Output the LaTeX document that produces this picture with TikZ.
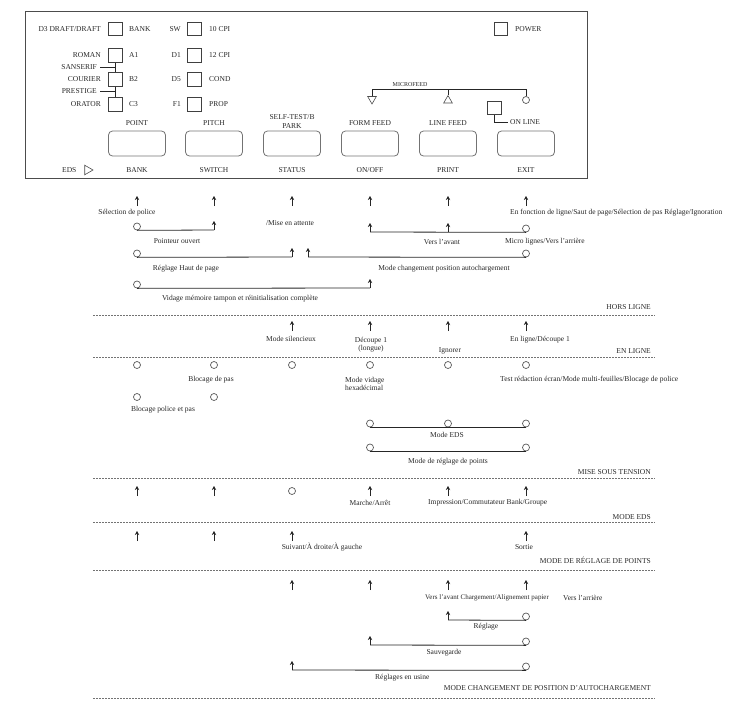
\documentclass[tikz,border=0pt]{standalone}
\usepackage{fontspec}
\setmainfont{Liberation Serif}
\usetikzlibrary{arrows.meta,shapes.geometric}
\tikzset{
  lbl/.style={font=\fontsize{7.5}{8.5}\selectfont, text=black!85, inner sep=0pt},
  small/.style={font=\fontsize{6}{7}\selectfont, text=black!85, inner sep=0pt},
  sq/.style={draw=black!75, line width=0.7pt, minimum size=13.5pt, inner sep=0pt},
  btn/.style={draw=black!55, line width=0.8pt, rounded corners=4pt, minimum width=57pt, minimum height=25pt, inner sep=0pt},
  uparr/.style={-{Stealth[length=4pt,width=4.4pt]}, line width=0.75pt, draw=black!85},
  ring/.style={circle, draw=black!65, line width=0.7pt, minimum size=7pt, inner sep=0pt},
  tri/.style={regular polygon, regular polygon sides=3, draw=black!70, line width=0.6pt, minimum size=10pt, inner sep=0pt},
  wire/.style={line width=0.8pt, draw=black!85},
  sep/.style={draw=black!55, line width=0.8pt, dash pattern=on 2pt off 1pt},
  panel/.style={draw=black!70, line width=0.9pt},
}
\begin{document}
\begin{tikzpicture}[x=1pt,y=-1pt]
\useasboundingbox (0,0) rectangle (745,704);
% ---------------- panel ----------------
\draw[panel] (25,11) rectangle (587,178);
% left group
\node[lbl, anchor=east] (lDraft) at (101,29) {D3 DRAFT/DRAFT};
\node[sq] (sA) at (115.5,29) {};
\node[lbl, anchor=west] (lBank) at (129,29) {BANK};
\node[lbl, anchor=east] (lRoman) at (101,55.5) {ROMAN};
\node[sq] (sB) at (115.5,55.5) {};
\node[lbl, anchor=west] (lA1) at (129,55.5) {A1};
\node[lbl, anchor=east] (lSans) at (97,67) {SANSERIF};
\node[lbl, anchor=east] (lCour) at (101,79.5) {COURIER};
\node[sq] (sC) at (115.5,79.5) {};
\node[lbl, anchor=west] (lB2) at (129,79.5) {B2};
\node[lbl, anchor=east] (lPres) at (97,91.5) {PRESTIGE};
\node[lbl, anchor=east] (lOrat) at (101,104.5) {ORATOR};
\node[sq] (sD) at (115.5,104.5) {};
\node[lbl, anchor=west] (lC3) at (129,104.5) {C3};
\draw[wire] (sB.south) -- (sC.north);
\draw[wire] (sC.south) -- (sD.north);
\draw[wire] ([xshift=3pt]lSans.east) -- (lSans.east -| sB.south);
\draw[wire] ([xshift=3pt]lPres.east) -- (lPres.east -| sB.south);
% middle group
\node[lbl, anchor=east] (lSW) at (181,29) {SW};
\node[sq] (tA) at (194.5,29) {};
\node[lbl, anchor=west] (l10) at (209,29) {10 CPI};
\node[lbl, anchor=east] (lD1) at (181,55.5) {D1};
\node[sq] (tB) at (194.5,55.5) {};
\node[lbl, anchor=west] (l12) at (209,55.5) {12 CPI};
\node[lbl, anchor=east] (lD5) at (181,79.5) {D5};
\node[sq] (tC) at (194.5,79.5) {};
\node[lbl, anchor=west] (lCond) at (209,79.5) {COND};
\node[lbl, anchor=east] (lF1) at (181,104.5) {F1};
\node[sq] (tD) at (194.5,104.5) {};
\node[lbl, anchor=west] (lProp) at (209,104.5) {PROP};
% power
\node[sq] (sPow) at (501,29) {};
\node[lbl, anchor=west] (lPow) at (515,29) {POWER};
% button labels
\node[lbl] (bl1) at (137,123) {POINT};
\node[lbl] (bl2) at (214,123) {PITCH};
\node[lbl, align=center] (bl3) at (292,121.5) {SELF-TEST/B\\PARK};
\node[lbl] (bl4) at (370,123) {FORM FEED};
\node[lbl] (bl5) at (448,123) {LINE FEED};
% buttons
\node[btn] (b1) at (137,143.5) {};
\node[btn] (b2) at (214,143.5) {};
\node[btn] (b3) at (292,143.5) {};
\node[btn] (b4) at (370,143.5) {};
\node[btn] (b5) at (448,143.5) {};
\node[btn] (b6) at (526,143.5) {};
% bottom labels
\node[lbl, anchor=west] (lEds) at (62,170) {EDS};
\node[tri, shape border rotate=-90, minimum size=11pt] (tEds) at (87.5,170) {};
\node[lbl] (bb1) at (137,170) {BANK};
\node[lbl] (bb2) at (214,170) {SWITCH};
\node[lbl] (bb3) at (292,170) {STATUS};
\node[lbl] (bb4) at (370,170) {ON/OFF};
\node[lbl] (bb5) at (448,170) {PRINT};
\node[lbl] (bb6) at (526,170) {EXIT};
% microfeed
\node[small] (lMicro) at (410,84.5) {MICROFEED};
\coordinate (mfL) at (372,89);
\coordinate (mfM) at (448,89);
\coordinate (mfR) at (526,89);
\node[tri, shape border rotate=180] (mfDown) at (372,99) {};
\node[tri] (mfUp) at (448,100.5) {};
\node[ring] (mfRing) at (526,100) {};
\draw[wire] (mfDown.north) -- (mfL) -- (mfR) -- (mfRing.north);
\draw[wire] (mfM) -- (mfUp.north);
% on line
\node[sq] (sOn) at (494.5,108) {};
\node[lbl, anchor=west] (lOn) at (510,122) {ON LINE};
\draw[wire] (sOn.south) |- ([xshift=-2pt]lOn.west);

% ---------------- HORS LIGNE ----------------
\foreach \n/\x in {1/137,2/214,3/292,4/370,5/448,6/526}{
  \coordinate (hA\n) at (\x,206);
  \draw[uparr] (hA\n) -- ++(0,-10);
}
\node[lbl] (tSel) at (127,213) {Sélection de police};
\node[lbl] (tMise) at (290,223) {/Mise en attente};
\node[lbl, anchor=west] (tFonc) at (510,213) {En fonction de ligne/Saut de page/Sélection de pas Réglage/Ignoration};
% row B
\node[ring] (hB1) at (137,226.5) {};
\coordinate (hB2) at (214,230);
\draw[wire] (hB1.south) -- (hB2);
\draw[uparr] (hB2) -- ++(0,-9);
\coordinate (hB4) at (370,232);
\coordinate (hB5) at (448,232);
\node[ring] (hB6) at (526,228.5) {};
\draw[wire] (hB4) -- (hB6.south);
\draw[uparr] (hB4) -- ++(0,-9);
\draw[uparr] (hB5) -- ++(0,-9);
\node[lbl] (tPoint) at (177,241) {Pointeur ouvert};
\node[lbl] (tAvant) at (442,242) {Vers l'avant};
\node[lbl, anchor=west] (tMicro) at (505,242) {Micro lignes/Vers l'arrière};
% row C
\node[ring] (hC1) at (137,253.5) {};
\coordinate (hC3) at (292,257);
\draw[wire] (hC1.south) -- (hC3);
\draw[uparr] (hC3) -- ++(0,-9);
\coordinate (hC3b) at (308,257);
\node[ring] (hC6) at (526,253.5) {};
\draw[wire] (hC3b) -- (hC6.south);
\draw[uparr] (hC3b) -- ++(0,-9);
\node[lbl] (tHaut) at (186,269) {Réglage Haut de page};
\node[lbl] (tChg) at (444,269) {Mode changement position autochargement};
% row D
\node[ring] (hD1) at (137,284.5) {};
\coordinate (hD4) at (370,288);
\draw[wire] (hD1.south) -- (hD4);
\draw[uparr] (hD4) -- ++(0,-9);
\node[lbl] (tVid) at (240,299) {Vidage mémoire tampon et réinitialisation complète};
\node[lbl, anchor=east] (secHors) at (651,307) {HORS LIGNE};
\draw[sep] (93,315) -- (655,315);

% ---------------- EN LIGNE ----------------
\foreach \n/\x in {3/292,4/370,5/448,6/526}{
  \coordinate (eA\n) at (\x,331);
  \draw[uparr] (eA\n) -- ++(0,-10);
}
\node[lbl] (tSil) at (291,339) {Mode silencieux};
\node[lbl, align=center] (tDec) at (371,344.5) {Découpe 1\\(longue)};
\node[lbl] (tIgn) at (450,351) {Ignorer};
\node[lbl, anchor=west] (tEnl) at (510,340) {En ligne/Découpe 1};
\node[lbl, anchor=east] (secEn) at (651,351) {EN LIGNE};
\draw[sep] (93,357) -- (655,357);

% ---------------- MISE SOUS TENSION ----------------
\foreach \n/\x in {1/137,2/214,3/292,4/370,5/448,6/526}{
  \node[ring] (mA\n) at (\x,365) {};
}
\node[ring] (mB1) at (137,397) {};
\node[ring] (mB2) at (214,397) {};
\node[lbl] (tBlp) at (211,380) {Blocage de pas};
\node[lbl, align=left, anchor=north west] (tHex) at (345,377) {Mode vidage\\hexadécimal};
\node[lbl, anchor=west] (tTest) at (500,380) {Test rédaction écran/Mode multi-feuilles/Blocage de police};
\node[lbl] (tBlpp) at (163,410) {Blocage police et pas};
\node[ring] (mC4) at (370,423.5) {};
\node[ring] (mC5) at (448,423.5) {};
\node[ring] (mC6) at (526,423.5) {};
\draw[wire] (mC4.south) -- (mC5.south) -- (mC6.south);
\node[lbl] (tEds) at (447,435) {Mode EDS};
\node[ring] (mD4) at (370,447.5) {};
\node[ring] (mD6) at (526,447.5) {};
\draw[wire] (mD4.south) -- (mD6.south);
\node[lbl] (tRegp) at (448,462) {Mode de réglage de points};
\node[lbl, anchor=east] (secMise) at (651,472) {MISE SOUS TENSION};
\draw[sep] (93,478) -- (655,478);

% ---------------- MODE EDS ----------------
\foreach \n/\x in {1/137,2/214,4/370,5/448,6/526}{
  \coordinate (dA\n) at (\x,496);
  \draw[uparr] (dA\n) -- ++(0,-10);
}
\node[ring] (dA3) at (292,491) {};
\node[lbl] (tMarche) at (370,503) {Marche/Arrêt};
\node[lbl, anchor=west] (tImp) at (428,503) {Impression/Commutateur Bank/Groupe};
\node[lbl, anchor=east] (secEds) at (651,517) {MODE EDS};
\draw[sep] (93,522) -- (655,522);

% ---------------- MODE DE REGLAGE DE POINTS ----------------
\foreach \n/\x in {1/137,2/214,3/292,6/526}{
  \coordinate (pA\n) at (\x,541);
  \draw[uparr] (pA\n) -- ++(0,-10);
}
\node[lbl] (tSuiv) at (322,547) {Suivant/À droite/À gauche};
\node[lbl] (tSort) at (524,547) {Sortie};
\node[lbl, anchor=east] (secPts) at (651,560) {MODE DE RÉGLAGE DE POINTS};
\draw[sep] (93,570) -- (655,570);

% ---------------- MODE CHANGEMENT ----------------
\foreach \n/\x in {3/292,4/370,5/448,6/526}{
  \coordinate (cA\n) at (\x,590);
  \draw[uparr] (cA\n) -- ++(0,-10);
}
\node[lbl, anchor=west, font=\fontsize{7}{8}\selectfont] (tVa) at (425,598) {Vers l'avant Chargement/Alignement papier};
\node[lbl, anchor=west] (tVar) at (563,598) {Vers l'arrière};
\coordinate (cB5) at (448,620);
\node[ring] (cB6) at (526,616.5) {};
\draw[wire] (cB5) -- (cB6.south);
\draw[uparr] (cB5) -- ++(0,-9);
\node[lbl] (tReg) at (486,627) {Réglage};
\coordinate (cC4) at (370,645);
\node[ring] (cC6) at (526,641.5) {};
\draw[wire] (cC4) -- (cC6.south);
\draw[uparr] (cC4) -- ++(0,-9);
\node[lbl] (tSauv) at (444,653) {Sauvegarde};
\coordinate (cD3) at (292,670);
\node[ring] (cD6) at (526,666.5) {};
\draw[wire] (cD3) -- (cD6.south);
\draw[uparr] (cD3) -- ++(0,-9);
\node[lbl, anchor=west] (tUsine) at (375,678) {Réglages en usine};
\node[lbl, anchor=east] (secChg) at (651,688) {MODE CHANGEMENT DE POSITION D'AUTOCHARGEMENT};
\draw[sep] (93,698) -- (655,698);
\end{tikzpicture}
\end{document}
